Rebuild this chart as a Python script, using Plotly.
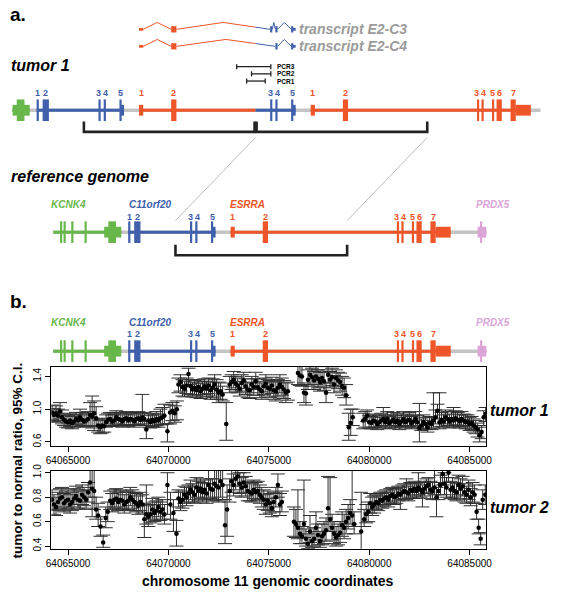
import plotly.graph_objects as go

W, H = 561, 596
FONT = "Liberation Sans, Arial, sans-serif"

# ======================= DATA =======================
# ---- panel b: tumor / normal ratio with 95% C.I. (tumor 1) ----
T1_POS = [64064200, 64064300, 64064400, 64064500, 64064600, 64064700, 64064800, 64064900, 64065000,
          64065100, 64065200, 64065300, 64065400, 64065500, 64065600, 64065700, 64065800, 64065900,
          64066000, 64066100, 64066200, 64066300, 64066400, 64066500, 64066600, 64066700, 64066800,
          64066900, 64067000, 64067100, 64067200, 64067300, 64067400, 64067500, 64067600, 64067700,
          64067800, 64067900, 64068000, 64068100, 64068200, 64068300, 64068400, 64068500, 64068600,
          64068700, 64068800, 64068900, 64069000, 64069100, 64069200, 64069300, 64069400, 64069500,
          64069600, 64069700, 64069800,
          64069950, 64070080, 64070200, 64070320, 64070420,
          64070500, 64070600, 64070700, 64070800, 64070900, 64071000, 64071100, 64071200, 64071300,
          64071400, 64071500, 64071600, 64071700, 64071800, 64071900, 64072000, 64072100, 64072200,
          64072300, 64072400, 64072500, 64072600, 64072700,
          64072880,
          64073050, 64073150, 64073250, 64073350, 64073450, 64073550, 64073650, 64073750, 64073850,
          64073950, 64074050, 64074150, 64074250, 64074350, 64074450, 64074550, 64074650, 64074750,
          64074850, 64074950, 64075050, 64075150, 64075250, 64075350, 64075450, 64075550, 64075650,
          64075750, 64075850, 64075950,
          64076450, 64076550, 64076650, 64076750, 64076850, 64076950, 64077050, 64077150, 64077250,
          64077350, 64077450, 64077550, 64077650, 64077750,
          64077850, 64077950, 64078050, 64078150, 64078250, 64078350, 64078450, 64078550, 64078650,
          64078750, 64078850,
          64078980, 64079080, 64079180,
          64079700, 64079800, 64079900, 64080000, 64080100, 64080200, 64080300, 64080400, 64080500,
          64080600, 64080700, 64080800, 64080900, 64081000, 64081100, 64081200, 64081300, 64081400,
          64081500, 64081600, 64081700, 64081800, 64081900, 64082000, 64082100, 64082200, 64082300,
          64082400, 64082500,
          64082600, 64082700, 64082800, 64082900, 64083000, 64083100, 64083200, 64083300, 64083400,
          64083500, 64083600, 64083700, 64083800, 64083900, 64084000, 64084100, 64084200, 64084300,
          64084400, 64084500, 64084600, 64084700, 64084800, 64084900, 64085000, 64085100, 64085200,
          64085300, 64085400, 64085500, 64085600, 64085700, 64085800]
T1_RATIO = [0.96, 0.93, 0.95, 0.92, 0.97, 0.90, 0.87, 0.85, 0.84,
            0.86, 0.83, 0.85, 0.88, 0.86, 0.90, 0.87, 0.85, 0.86,
            0.88, 0.93, 0.91, 0.95, 0.89, 0.80, 0.78, 0.80, 0.79,
            0.84, 0.87, 0.88, 0.85, 0.86, 0.90, 0.88, 0.87, 0.85,
            0.88, 0.89, 0.86, 0.88, 0.87, 0.85, 0.88, 0.89, 0.87,
            0.90, 0.88, 0.75, 0.86, 0.84, 0.87, 0.85, 0.88, 0.86,
            0.89, 0.90, 0.92,
            0.73, 0.96, 0.98, 0.95, 1.00,
            1.30, 1.33, 1.27, 1.25, 1.29, 1.43, 1.28, 1.24, 1.26,
            1.23, 1.27, 1.22, 1.25, 1.28, 1.25, 1.29, 1.23, 1.26,
            1.30, 1.24, 1.20, 1.22, 1.18,
            0.82,
            1.30, 1.33, 1.36, 1.31, 1.29, 1.25, 1.32, 1.35, 1.28,
            1.24, 1.23, 1.30, 1.27, 1.34, 1.27, 1.24, 1.22, 1.28,
            1.31, 1.26, 1.25, 1.29, 1.23, 1.22, 1.26, 1.30, 1.27,
            1.24, 1.20, 1.22,
            1.44, 1.41, 1.40, 1.20, 1.19, 1.36, 1.42, 1.39, 1.35,
            1.40, 1.37, 1.33, 1.38, 1.34,
            1.20, 1.42, 1.36, 1.39, 1.30, 1.38, 1.35, 1.33, 1.28,
            1.26, 1.17,
            0.78, 0.83, 0.90,
            0.86, 0.88, 0.92, 0.84, 0.83, 0.86, 0.85, 0.82, 0.84,
            0.86, 0.88, 0.84, 0.88, 0.83, 0.85, 0.87, 0.84, 0.86,
            0.82, 0.85, 0.88, 0.84, 0.86, 0.87, 0.83, 0.85, 0.88,
            0.84, 0.77,
            0.80, 0.84, 0.82, 0.78, 0.83, 0.82, 0.86, 0.90, 0.98,
            0.84, 0.87, 0.85, 0.90, 0.88, 0.85, 0.88, 0.86, 0.89,
            0.87, 0.85, 0.88, 0.86, 0.84, 0.85, 0.82, 0.83, 0.80,
            0.78, 0.75, 0.68, 0.72, 0.90, 0.94]
T1_LO = [0.87, 0.85, 0.86, 0.84, 0.88, 0.82, 0.80, 0.78, 0.77,
         0.79, 0.76, 0.78, 0.81, 0.79, 0.82, 0.80, 0.78, 0.79,
         0.80, 0.80, 0.77, 0.74, 0.79, 0.72, 0.70, 0.71, 0.72,
         0.78, 0.80, 0.80, 0.79, 0.79, 0.82, 0.81, 0.80, 0.78,
         0.81, 0.81, 0.79, 0.80, 0.80, 0.78, 0.81, 0.81, 0.80,
         0.82, 0.80, 0.64, 0.78, 0.77, 0.79, 0.78, 0.80, 0.78,
         0.81, 0.81, 0.82,
         0.60, 0.82, 0.86, 0.84, 0.87,
         1.20, 1.22, 1.16, 1.15, 1.19, 1.30, 1.18, 1.15, 1.17,
         1.14, 1.18, 1.13, 1.16, 1.18, 1.15, 1.19, 1.12, 1.14,
         1.16, 1.12, 1.08, 1.12, 1.10,
         0.62,
         1.20, 1.24, 1.26, 1.22, 1.20, 1.16, 1.22, 1.25, 1.18,
         1.14, 1.13, 1.20, 1.17, 1.24, 1.17, 1.14, 1.12, 1.18,
         1.21, 1.16, 1.14, 1.19, 1.12, 1.10, 1.15, 1.20, 1.17,
         1.13, 1.08, 1.11,
         1.30, 1.29, 1.28, 1.08, 1.05, 1.24, 1.30, 1.28, 1.24,
         1.30, 1.26, 1.22, 1.27, 1.23,
         1.08, 1.32, 1.26, 1.29, 1.20, 1.28, 1.25, 1.22, 1.17,
         1.14, 1.05,
         0.62, 0.68, 0.80,
         0.76, 0.78, 0.85, 0.77, 0.76, 0.78, 0.78, 0.75, 0.77,
         0.79, 0.80, 0.77, 0.80, 0.76, 0.78, 0.80, 0.77, 0.79,
         0.75, 0.78, 0.80, 0.77, 0.79, 0.79, 0.76, 0.78, 0.80,
         0.77, 0.60,
         0.74, 0.76, 0.75, 0.72, 0.76, 0.75, 0.78, 0.82, 0.88,
         0.76, 0.79, 0.78, 0.82, 0.80, 0.77, 0.80, 0.78, 0.81,
         0.79, 0.77, 0.80, 0.79, 0.76, 0.77, 0.74, 0.75, 0.72,
         0.70, 0.66, 0.60, 0.64, 0.80, 0.85]
T1_HI = [1.05, 1.01, 1.04, 1.00, 1.08, 0.99, 0.95, 0.93, 0.92,
         0.94, 0.91, 0.93, 0.96, 0.94, 1.00, 0.96, 0.93, 0.95,
         0.97, 1.08, 1.16, 1.10, 1.03, 0.88, 0.86, 0.89, 0.87,
         0.93, 0.95, 0.96, 0.93, 0.94, 0.98, 0.96, 0.95, 0.93,
         0.96, 0.97, 0.94, 0.96, 0.95, 0.93, 0.96, 0.97, 0.95,
         1.18, 0.96, 0.85, 0.94, 0.92, 0.95, 0.93, 0.97, 0.94,
         1.00, 1.02, 1.06,
         0.82, 1.05, 1.08, 1.04, 1.10,
         1.38, 1.42, 1.36, 1.34, 1.38, 1.50, 1.36, 1.33, 1.35,
         1.32, 1.36, 1.31, 1.34, 1.37, 1.34, 1.38, 1.33, 1.37,
         1.42, 1.36, 1.33, 1.32, 1.28,
         1.08,
         1.40, 1.42, 1.46, 1.40, 1.38, 1.34, 1.42, 1.45, 1.37,
         1.33, 1.32, 1.40, 1.37, 1.45, 1.37, 1.34, 1.32, 1.38,
         1.42, 1.36, 1.35, 1.39, 1.34, 1.33, 1.36, 1.42, 1.38,
         1.35, 1.32, 1.33,
         1.56, 1.54, 1.53, 1.32, 1.30, 1.48, 1.55, 1.50, 1.46,
         1.52, 1.48, 1.45, 1.48, 1.45,
         1.32, 1.52, 1.46, 1.50, 1.41, 1.48, 1.45, 1.44, 1.40,
         1.38, 1.30,
         0.95, 1.00, 1.00,
         0.95, 0.97, 0.99, 0.92, 0.91, 0.94, 0.93, 0.90, 0.92,
         0.95, 1.02, 0.93, 0.97, 0.91, 0.93, 0.96, 0.92, 0.95,
         0.90, 0.93, 0.97, 0.92, 0.94, 0.96, 0.91, 0.93, 0.97,
         0.92, 1.07,
         0.88, 0.93, 0.90, 0.86, 0.91, 0.90, 1.20, 0.99, 1.06,
         1.20, 0.96, 0.93, 0.99, 0.97, 0.94, 0.97, 1.02, 0.98,
         0.96, 0.93, 0.97, 0.94, 0.93, 0.93, 0.90, 0.91, 0.88,
         0.86, 0.83, 0.78, 0.80, 0.98, 1.02]

# ---- panel b: tumor 2 ----
T2_POS = [64064200, 64064300, 64064400, 64064500, 64064600, 64064700, 64064800, 64064900, 64065000,
          64065100, 64065200, 64065300, 64065400, 64065500, 64065600, 64065700, 64065800, 64065900,
          64066000,
          64066100, 64066200, 64066300, 64066400, 64066500, 64066620, 64066750, 64066880, 64066980,
          64067100, 64067200, 64067300, 64067400, 64067500, 64067600, 64067700, 64067800, 64067900,
          64068000, 64068100, 64068200, 64068300, 64068400, 64068500, 64068600, 64068700,
          64068800, 64068900, 64069000, 64069100, 64069200, 64069300, 64069400, 64069500, 64069600,
          64069700, 64069800, 64069950, 64070100, 64070250, 64070400,
          64070500, 64070600, 64070700, 64070800, 64070900, 64071000, 64071100, 64071200, 64071300,
          64071400, 64071500, 64071600, 64071700, 64071800, 64071900, 64072000, 64072100, 64072200,
          64072300, 64072400, 64072500, 64072600, 64072700,
          64072820, 64072920, 64073050,
          64073150, 64073250, 64073350, 64073450, 64073550, 64073650, 64073750, 64073850, 64073950,
          64074050, 64074150, 64074250, 64074350, 64074450, 64074550, 64074650, 64074750, 64074850,
          64074950, 64075050, 64075150, 64075250, 64075350, 64075450, 64075550, 64075650,
          64076250, 64076350, 64076450, 64076550, 64076650, 64076750, 64076850, 64076950, 64077050,
          64077150, 64077250, 64077350, 64077450, 64077550, 64077650, 64077750, 64077850, 64077950,
          64078050, 64078150, 64078250, 64078350, 64078450, 64078550, 64078650, 64078750, 64078850,
          64078950, 64079050, 64079150, 64079250,
          64079600, 64079750, 64079850, 64079950, 64080050, 64080150, 64080250,
          64080350, 64080450, 64080550, 64080650, 64080750, 64080850, 64080950, 64081050, 64081150,
          64081250, 64081350, 64081450, 64081550, 64081650, 64081750, 64081850, 64081950, 64082050,
          64082150, 64082250, 64082350, 64082450, 64082550, 64082650, 64082750, 64082850, 64082950,
          64083050, 64083150, 64083250, 64083350, 64083450,
          64083550, 64083650, 64083750, 64083850, 64083950, 64084050, 64084150, 64084250, 64084350,
          64084450, 64084550, 64084650, 64084750, 64084850, 64084950, 64085050, 64085150, 64085250,
          64085350, 64085450, 64085550, 64085650, 64085780]
T2_RATIO = [0.78, 0.74, 0.72, 0.76, 0.79, 0.80, 0.75, 0.77, 0.78,
            0.74, 0.76, 0.79, 0.81, 0.78, 0.77, 0.82, 0.80, 0.78,
            0.84,
            0.92, 0.87, 0.85, 0.70, 0.65, 0.56, 0.43, 0.63, 0.68,
            0.77, 0.75, 0.78, 0.79, 0.76, 0.78, 0.77, 0.74, 0.76,
            0.77, 0.80, 0.78, 0.76, 0.75, 0.73, 0.76, 0.74,
            0.62, 0.66, 0.64, 0.66, 0.70, 0.67, 0.69, 0.72, 0.68,
            0.70, 0.66, 0.90, 0.74, 0.67, 0.50,
            0.79, 0.76, 0.78, 0.82, 0.80, 0.83, 0.86, 0.84, 0.82,
            0.88, 0.85, 0.87, 0.84, 0.86, 0.83, 0.90, 0.87, 0.86,
            0.91, 0.89, 0.88, 0.93, 0.90,
            0.57, 0.70, 0.85,
            0.93, 0.90, 0.95, 0.97, 0.91, 0.88, 0.92, 0.89, 0.85,
            0.84, 0.83, 0.86, 0.84, 0.85, 0.82, 0.80, 0.78, 0.74,
            0.77, 0.75, 0.71, 0.76, 0.80, 0.90, 0.74, 0.76,
            0.60, 0.58, 0.55, 0.50, 0.48, 0.58, 0.46, 0.42, 0.52,
            0.44, 0.46, 0.55, 0.49, 0.44, 0.48, 0.50, 0.53, 0.71,
            0.62, 0.55, 0.50, 0.47, 0.49, 0.51, 0.57, 0.55, 0.60,
            0.63, 0.67, 0.65, 0.58,
            0.52, 0.62, 0.66, 0.68, 0.75, 0.72, 0.74,
            0.76, 0.75, 0.78, 0.77, 0.79, 0.80, 0.78, 0.81, 0.82,
            0.80, 0.81, 0.83, 0.82, 0.84, 0.85, 0.84, 0.83, 0.86,
            0.85, 0.87, 0.85, 0.88, 0.86, 0.84, 0.87, 0.89, 0.90,
            0.86, 0.85, 0.88, 0.80, 0.85,
            0.90, 0.99, 0.91, 0.88, 1.00, 0.86, 0.88, 0.85, 0.84,
            0.90, 0.87, 0.89, 0.84, 0.82, 0.86, 0.80, 0.84, 0.82,
            0.68, 0.55, 0.46, 0.78, 0.82]
T2_LO = [0.70, 0.66, 0.65, 0.69, 0.71, 0.72, 0.68, 0.70, 0.71,
         0.67, 0.69, 0.72, 0.74, 0.71, 0.70, 0.74, 0.73, 0.71,
         0.76,
         0.80, 0.64, 0.70, 0.62, 0.56, 0.48, 0.39, 0.55, 0.60,
         0.70, 0.68, 0.71, 0.72, 0.69, 0.71, 0.70, 0.67, 0.69,
         0.70, 0.73, 0.71, 0.69, 0.68, 0.66, 0.69, 0.67,
         0.47, 0.58, 0.56, 0.59, 0.62, 0.60, 0.61, 0.64, 0.61,
         0.62, 0.58, 0.66, 0.62, 0.52, 0.40,
         0.72, 0.69, 0.71, 0.75, 0.73, 0.76, 0.78, 0.76, 0.75,
         0.80, 0.77, 0.79, 0.76, 0.78, 0.75, 0.80, 0.79, 0.77,
         0.78, 0.77, 0.76, 0.80, 0.78,
         0.42, 0.48, 0.76,
         0.84, 0.81, 0.86, 0.89, 0.83, 0.80, 0.84, 0.81, 0.77,
         0.77, 0.76, 0.79, 0.77, 0.78, 0.75, 0.72, 0.70, 0.66,
         0.69, 0.67, 0.64, 0.68, 0.72, 0.80, 0.65, 0.68,
         0.48, 0.47, 0.46, 0.42, 0.42, 0.47, 0.40, 0.38, 0.43,
         0.39, 0.40, 0.45, 0.41, 0.39, 0.41, 0.42, 0.44, 0.52,
         0.52, 0.45, 0.42, 0.40, 0.41, 0.43, 0.48, 0.46, 0.50,
         0.54, 0.58, 0.56, 0.50,
         0.36, 0.56, 0.59, 0.60, 0.67, 0.65, 0.67,
         0.70, 0.69, 0.72, 0.71, 0.73, 0.74, 0.72, 0.75, 0.76,
         0.74, 0.75, 0.77, 0.70, 0.78, 0.79, 0.78, 0.77, 0.80,
         0.79, 0.81, 0.79, 0.82, 0.80, 0.72, 0.81, 0.83, 0.84,
         0.79, 0.78, 0.82, 0.64, 0.78,
         0.82, 0.90, 0.82, 0.80, 0.92, 0.79, 0.80, 0.78, 0.77,
         0.82, 0.79, 0.81, 0.76, 0.75, 0.78, 0.73, 0.76, 0.75,
         0.62, 0.50, 0.41, 0.70, 0.74]
T2_HI = [0.86, 0.82, 0.80, 0.84, 0.87, 0.88, 0.83, 0.85, 0.86,
         0.82, 0.84, 0.87, 0.89, 0.86, 0.85, 0.90, 0.88, 0.86,
         0.92,
         1.05, 1.05, 1.05, 0.80, 0.75, 0.64, 0.49, 0.72, 0.76,
         0.85, 0.83, 0.86, 0.87, 0.84, 0.86, 0.85, 0.82, 0.84,
         0.85, 0.88, 0.86, 0.84, 0.83, 0.81, 0.84, 0.82,
         0.75, 0.90, 0.73, 0.74, 0.79, 0.76, 0.77, 0.80, 0.76,
         0.78, 0.74, 1.00, 0.84, 0.78, 0.61,
         0.86, 0.84, 0.85, 0.89, 0.88, 0.90, 0.94, 0.91, 0.89,
         0.96, 0.93, 0.95, 0.92, 0.94, 0.91, 1.02, 0.95, 0.95,
         1.05, 1.05, 1.05, 1.05, 1.05,
         0.78, 0.90, 0.95,
         1.02, 0.99, 1.03, 1.05, 1.00, 0.96, 1.00, 0.97, 0.93,
         0.92, 0.91, 0.94, 0.92, 0.93, 0.90, 0.88, 0.86, 0.82,
         0.85, 0.83, 0.79, 0.84, 0.88, 0.99, 0.83, 0.85,
         0.72, 0.70, 0.86, 0.60, 0.56, 0.94, 0.54, 0.50, 0.65,
         0.52, 0.55, 0.68, 0.58, 0.52, 0.58, 0.60, 0.63, 0.97,
         0.96, 0.66, 0.60, 0.56, 0.58, 0.60, 0.68, 0.66, 0.70,
         0.74, 0.78, 1.02, 0.68,
         0.84, 0.70, 0.74, 0.76, 0.83, 0.80, 0.81,
         0.82, 0.81, 0.84, 0.83, 0.85, 0.86, 0.84, 0.87, 0.88,
         0.86, 0.87, 0.89, 0.88, 0.90, 0.91, 0.95, 0.89, 0.92,
         0.91, 0.93, 0.91, 1.00, 0.92, 0.90, 0.93, 0.95, 0.96,
         0.93, 0.92, 1.02, 0.88, 0.92,
         0.98, 1.05, 1.00, 0.96, 1.05, 0.93, 0.96, 0.92, 0.91,
         0.98, 0.95, 0.97, 0.91, 0.89, 0.94, 0.87, 0.92, 0.90,
         0.75, 0.62, 0.51, 0.86, 0.90]

X_TICKS = [64065000, 64070000, 64075000, 64080000, 64085000]
X_TICK_LABELS = ["64065000", "64070000", "64075000", "64080000", "64085000"]
T1_Y_TICKS = [0.6, 1.0, 1.4]
T1_Y_TICK_LABELS = ["0.6", "1.0", "1.4"]
T2_Y_TICKS = [0.4, 0.6, 0.8, 1.0]
T2_Y_TICK_LABELS = ["0.4", "0.6", "0.8", "1.0"]
X_RANGE = [64064170, 64085835]
T1_Y_RANGE = [0.556, 1.52]
T2_Y_RANGE = [0.378, 1.016]

assert len(T1_POS) == len(T1_RATIO) == len(T1_LO) == len(T1_HI)
assert len(T2_POS) == len(T2_RATIO) == len(T2_LO) == len(T2_HI)

# ---- gene models (chr11 coordinates) ----
GENE_NAMES = ["KCNK4", "C11orf20", "ESRRA", "PRDX5"]
GENE_START = [64064260, 64067995, 64073096, 64085398]
GENE_END = [64067650, 64072348, 64084058, 64085833]
GENE_LABEL_POS = [64065005, 64069094, 64073914, 64086164]
REF_REGION = [64064257, 64085833]

KCNK4_EXON_NO = [0, 0, 0, 0, 0, 0]
KCNK4_EXON_START = [64064600, 64064776, 64065160, 64065820, 64066800, 64067006]
KCNK4_EXON_END = [64064710, 64064886, 64065270, 64065930, 64067650, 64067389]
KCNK4_EXON_KIND = ["cds", "cds", "cds", "cds", "utr", "cds"]

C11_EXON_NO = [1, 2, 3, 4, 5, 5]
C11_EXON_START = [64067995, 64068294, 64071075, 64071336, 64072120, 64072174]
C11_EXON_END = [64068105, 64068607, 64071185, 64071446, 64072230, 64072348]
C11_EXON_KIND = ["cds", "cds", "cds", "cds", "cds", "utr"]

ESRRA_EXON_NO = [1, 2, 3, 4, 5, 6, 7, 7]
ESRRA_EXON_START = [64073096, 64074697, 64081376, 64081602, 64082124, 64082353, 64083049, 64083310]
ESRRA_EXON_END = [64073305, 64074958, 64081486, 64081712, 64082234, 64082614, 64083310, 64084058]
ESRRA_EXON_KIND = ["utr", "cds", "cds", "cds", "cds", "cds", "cds", "utr"]

PRDX5_EXON_NO = [0, 0]
PRDX5_EXON_START = [64085398, 64085517]
PRDX5_EXON_END = [64085833, 64085627]
PRDX5_EXON_KIND = ["utr", "cds"]

# ---- tumor 1 tandem duplication ----
DUP_START, DUP_END = 64070350, 64078900
TUMOR_REGION = [64066780, 64084540]

# ---- fusion transcripts: (gene, exon number, copy of duplication) ----
TRANSCRIPT_NAMES = ["transcript E2-C3", "transcript E2-C4"]
E2C3_EXONS = [("ESRRA", 1, 1), ("ESRRA", 2, 1), ("C11orf20", 3, 2), ("C11orf20", 4, 2), ("C11orf20", 5, 2)]
E2C4_EXONS = [("ESRRA", 1, 1), ("ESRRA", 2, 1), ("C11orf20", 4, 2), ("C11orf20", 5, 2)]

# ---- PCR products across the junction ----
PCR_NAMES = ["PCR3", "PCR2", "PCR1"]
PCR_FWD = [64077960, 64078700, 64078455]   # first copy (ESRRA intron)
PCR_REV = [64071110, 64071110, 64070830]   # second copy (C11orf20)

# ======================= STYLE / LAYOUT =======================
COLORS = {"KCNK4": "#67B74A", "C11orf20": "#4060AC", "ESRRA": "#EE5528", "PRDX5": "#DCA5D8"}
GRAY = "#C4C4C4"
PLOT_X0, PLOT_X1 = 47.3, 491.0
P1_Y0, P1_Y1 = 365.7, 446.0
P2_Y0, P2_Y1 = 471.7, 551.0

BP_PER_PX = (X_RANGE[1] - X_RANGE[0]) / (PLOT_X1 - PLOT_X0)
OVER_RANGE = [X_RANGE[0] - PLOT_X0 * BP_PER_PX, X_RANGE[0] + (W - PLOT_X0) * BP_PER_PX]
SHIFT1 = -4560                       # placement of tumor track
SHIFT2 = SHIFT1 + (DUP_END - DUP_START)
JUNCTION = DUP_END + SHIFT1

EXONS = {
    "KCNK4": list(zip(KCNK4_EXON_NO, KCNK4_EXON_START, KCNK4_EXON_END, KCNK4_EXON_KIND)),
    "C11orf20": list(zip(C11_EXON_NO, C11_EXON_START, C11_EXON_END, C11_EXON_KIND)),
    "ESRRA": list(zip(ESRRA_EXON_NO, ESRRA_EXON_START, ESRRA_EXON_END, ESRRA_EXON_KIND)),
    "PRDX5": list(zip(PRDX5_EXON_NO, PRDX5_EXON_START, PRDX5_EXON_END, PRDX5_EXON_KIND)),
}

shapes, annots = [], []


def line(x0, y0, x1, y1, color, width):
    shapes.append(dict(type="line", xref="x3", yref="y3", x0=x0, y0=y0, x1=x1, y1=y1,
                       line=dict(color=color, width=width)))


def rect(x0, x1, yc, half, color):
    shapes.append(dict(type="rect", xref="x3", yref="y3", x0=x0, x1=x1, y0=yc - half, y1=yc + half,
                       fillcolor=color, line=dict(width=0)))


def text(x, y, s, size, color="black", bold=True, italic=False, xanchor="center", xref="x3", yref="y3",
         angle=0):
    annots.append(dict(x=x, y=y, xref=xref, yref=yref, text=s, showarrow=False, xanchor=xanchor,
                       yanchor="middle", textangle=angle, borderpad=0,
                       font=dict(family=FONT, size=size, color=color,
                                 weight="bold" if bold else "normal",
                                 style="italic" if italic else "normal")))


def spread(centers, min_gap):
    """push neighbouring exon-number labels apart (positions in bp)"""
    pos = list(centers)
    gap = min_gap * BP_PER_PX
    for _ in range(4):
        for i in range(len(pos) - 1):
            d = pos[i + 1] - pos[i]
            if 0 <= d < gap:
                push = (gap - d) / 2
                pos[i] -= push
                pos[i + 1] += push
    return pos


def draw_track(yc, segments, num_y, name_y=None):
    line(segments[0][0] + segments[0][2], yc, segments[-1][1] + segments[-1][2], yc, GRAY, 3.5)
    for g0, g1, sh in segments:
        for gi, name in enumerate(GENE_NAMES):
            col = COLORS[name]
            a, b = max(GENE_START[gi], g0), min(GENE_END[gi], g1)
            if a < b:
                line(a + sh, yc, b + sh, yc, col, 3)
            nums, cents = [], []
            for no, s, e, kind in EXONS[name]:
                a, b = max(s, g0), min(e, g1)
                if a < b:
                    rect(a + sh, b + sh, yc, 11 if kind == "cds" else 5.5, col)
                if no and no not in nums:
                    c = (s + e) / 2
                    if g0 <= c <= g1:
                        nums.append(no)
                        cents.append(c + sh)
            for no, c in zip(nums, spread(cents, 7.0)):
                text(c, num_y, str(no), 9, col)
    if name_y is not None:
        for gi, name in enumerate(GENE_NAMES):
            text(GENE_LABEL_POS[gi], name_y, name, 10, COLORS[name], italic=True)


def leg(xa, ya, xb, yb, col_l, col_r):
    if xa < JUNCTION < xb and col_l != col_r:
        yj = ya + (JUNCTION - xa) / (xb - xa) * (yb - ya)
        line(xa, ya, JUNCTION, yj, col_l, 1)
        line(JUNCTION, yj, xb, yb, col_r, 1)
    else:
        line(xa, ya, xb, yb, col_l if xb <= JUNCTION else col_r, 1)


def draw_transcript(yc, exons, label):
    prev_end, prev_gene = None, None
    for gene, no, copy in exons:
        sh = SHIFT1 if copy == 1 else SHIFT2
        blocks = [(s, e, k) for n, s, e, k in EXONS[gene] if n == no]
        s0 = min(b[0] for b in blocks) + sh
        e0 = max(b[1] for b in blocks) + sh
        if prev_end is not None:
            mid = (prev_end + s0) / 2
            cl, cr = COLORS[prev_gene], COLORS[gene]
            leg(prev_end, yc, mid, yc - 7, cl, cr)
            leg(mid, yc - 7, s0, yc, cl, cr)
        for s, e, k in blocks:
            rect(s + sh, e + sh, yc, 3.2 if k == "cds" else 1.4, COLORS[gene])
        prev_end, prev_gene = e0, gene
    text(299 / W, 1 - yc / H, label, 14, "#9B9B9B", italic=True, xanchor="left", xref="paper", yref="paper")


# ---------------- panel a ----------------
draw_transcript(22.7, E2C3_EXONS, TRANSCRIPT_NAMES[0])
draw_transcript(40.0, E2C4_EXONS, TRANSCRIPT_NAMES[1])

# PCR products
PCR_Y = [60.7, 68.0, 75.3]
for name, f, r, y in zip(PCR_NAMES, PCR_FWD, PCR_REV, PCR_Y):
    x0, x1 = f + SHIFT1, r + SHIFT2
    line(x0, y, x1, y, "#222222", 1.3)
    line(x0, y - 2.6, x0, y + 2.6, "#222222", 1.3)
    line(x1, y - 2.6, x1, y + 2.6, "#222222", 1.3)
    text(max(PCR_REV) + SHIFT2 + 5 * BP_PER_PX, y, name, 6.5, xanchor="left")

# tumor 1 rearranged track
draw_track(105.0, [(TUMOR_REGION[0], DUP_END, SHIFT1), (DUP_START, TUMOR_REGION[1], SHIFT2)], 87.3)


def bracket(x0, x1, ytop, ybot):
    shapes.append(dict(type="path", xref="x3", yref="y3",
                       path=f"M {x0},{ytop} L {x0},{ybot} L {x1},{ybot} L {x1},{ytop}",
                       line=dict(color="#222222", width=2.6)))


gap = 1.0 * BP_PER_PX
bracket(DUP_START + SHIFT1, DUP_END + SHIFT1 - gap, 116.5, 127.0)
bracket(DUP_START + SHIFT2 + gap, DUP_END + SHIFT2, 116.5, 127.0)

# grey connectors
line(DUP_END + SHIFT1, 132.7, DUP_START, 217.3, "#BDBDBD", 1)
line(DUP_END + SHIFT2, 132.7, DUP_END, 217.3, "#BDBDBD", 1)

# reference genome track
draw_track(229.0, [(REF_REGION[0], REF_REGION[1], 0)], 213.3, 200.7)
bracket(DUP_START, DUP_END, 241.7, 252.5)

# ---------------- panel b gene track ----------------
draw_track(350.0, [(REF_REGION[0], REF_REGION[1], 0)], 332.7, 320.7)

# labels
text(4 / W, 1 - 8 / H, "a.", 19, xanchor="left", xref="paper", yref="paper")
text(4 / W, 1 - 300 / H, "b.", 19, xanchor="left", xref="paper", yref="paper")
text(5 / W, 1 - 59.5 / H, "tumor 1", 16, italic=True, xanchor="left", xref="paper", yref="paper")
text(5 / W, 1 - 172.3 / H, "reference genome", 16, italic=True, xanchor="left", xref="paper", yref="paper")
text(494 / W, 1 - 410 / H, "tumor 1", 16, italic=True, xanchor="left", xref="paper", yref="paper")
text(494 / W, 1 - 509.3 / H, "tumor 2", 16, italic=True, xanchor="left", xref="paper", yref="paper")
text(13 / W, 1 - 461.5 / H, "tumor to normal ratio, 95% C.I.", 13.5, xref="paper", yref="paper", angle=-90)
text(268 / W, 1 - 584 / H, "chromosome 11 genomic coordinates", 14, xref="paper", yref="paper")

# ======================= FIGURE =======================
fig = go.Figure()


def ci_trace(pos, ratio, lo, hi, xa, ya):
    return go.Scatter(
        x=pos, y=ratio, mode="markers", xaxis=xa, yaxis=ya, showlegend=False, hoverinfo="skip",
        marker=dict(color="black", size=4.5),
        error_y=dict(type="data", symmetric=False,
                     array=[h - r for h, r in zip(hi, ratio)],
                     arrayminus=[r - l for r, l in zip(ratio, lo)],
                     color="#303030", thickness=1.0, width=7))


fig.add_trace(ci_trace(T1_POS, T1_RATIO, T1_LO, T1_HI, "x", "y"))
fig.add_trace(ci_trace(T2_POS, T2_RATIO, T2_LO, T2_HI, "x2", "y2"))
fig.add_trace(go.Scatter(x=[], y=[], xaxis="x3", yaxis="y3", showlegend=False))

xdom = [PLOT_X0 / W, PLOT_X1 / W]
axis_common = dict(showline=True, mirror=True, linecolor="black", linewidth=1, ticks="outside",
                   ticklen=5, tickcolor="black", showgrid=False, zeroline=False,
                   tickfont=dict(family=FONT, size=10, color="black"))

fig.update_layout(
    width=W, height=H, margin=dict(l=0, r=0, t=0, b=0),
    paper_bgcolor="white", plot_bgcolor="rgba(0,0,0,0)",
    xaxis=dict(domain=xdom, range=X_RANGE, anchor="y", tickvals=X_TICKS, ticktext=X_TICK_LABELS,
               **axis_common),
    yaxis=dict(domain=[1 - P1_Y1 / H, 1 - P1_Y0 / H], range=T1_Y_RANGE, anchor="x",
               tickvals=T1_Y_TICKS, ticktext=T1_Y_TICK_LABELS, tickangle=-90, **axis_common),
    xaxis2=dict(domain=xdom, range=X_RANGE, anchor="y2", tickvals=X_TICKS, ticktext=X_TICK_LABELS,
                **axis_common),
    yaxis2=dict(domain=[1 - P2_Y1 / H, 1 - P2_Y0 / H], range=T2_Y_RANGE, anchor="x2",
                tickvals=T2_Y_TICKS, ticktext=T2_Y_TICK_LABELS, tickangle=-90, **axis_common),
    xaxis3=dict(domain=[0, 1], range=OVER_RANGE, anchor="y3", visible=False),
    yaxis3=dict(domain=[0, 1], range=[H, 0], anchor="x3", visible=False),
    shapes=shapes, annotations=annots,
)

fig.write_html("out.html", config={"displayModeBar": False},
               post_script="document.body.style.margin='0px';document.body.style.padding='0px';")
